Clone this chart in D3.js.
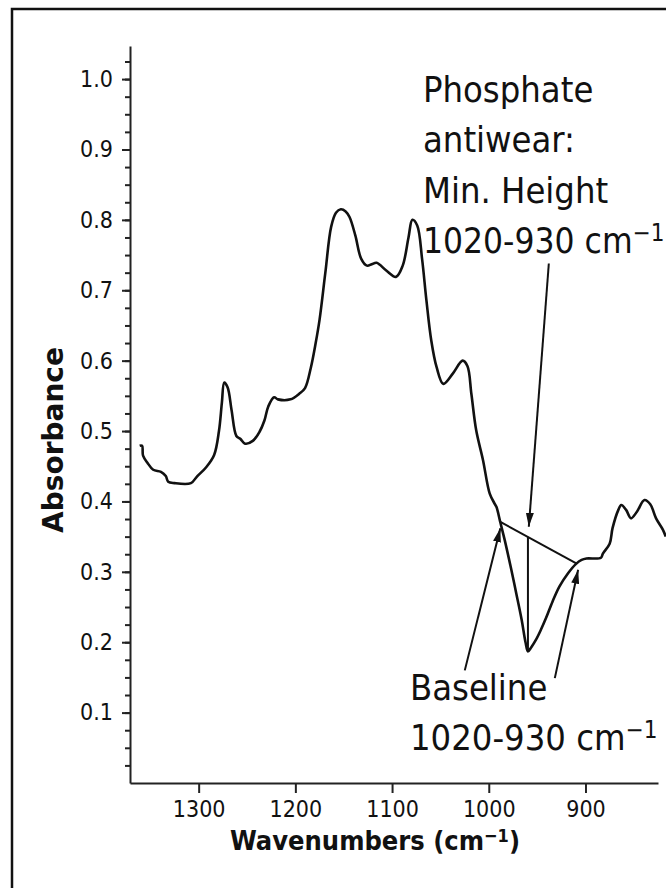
<!DOCTYPE html>
<html>
<head>
<meta charset="utf-8">
<script src="https://cdn.jsdelivr.net/npm/d3@7"></script>
<style>
	body { margin: 0; background: #fff; }
	text { font-family: "DejaVu Sans", Verdana, sans-serif; font-stretch: condensed; fill: #111; }
	.axis path, .axis line { stroke: #222; stroke-width: 2; }
</style>
</head>
<body>
<div id="chart"></div>
<script>
// spectrum (wavenumber cm-1, absorbance)
var wavenumbers = [1361, 1358.5, 1357.5, 1353, 1347, 1339, 1334, 1331.5, 1325, 1308, 1302, 1292, 1284, 1279, 1276, 1273.5,
	1270, 1266, 1261, 1257, 1252, 1244, 1237, 1232, 1228, 1222, 1218, 1205, 1196, 1190, 1184, 1179, 1175, 1169, 1163,
	1158, 1153, 1148, 1144, 1138, 1132, 1126, 1121, 1116, 1106, 1096, 1089, 1083, 1079, 1074, 1069, 1064.5, 1059.5,
	1054, 1047, 1037, 1027, 1022, 1018, 1013, 1006, 999, 994, 992, 988, 983.5, 977, 971.5, 966, 962, 959.5, 956, 951,
	946, 940.6, 934, 927, 918, 910, 904, 899, 884, 882, 875, 872, 866, 863, 858, 853, 847, 839, 833, 827, 820, 817];
var absorbance = [0.479, 0.479, 0.465, 0.455, 0.445, 0.442, 0.436, 0.428, 0.426, 0.426, 0.435, 0.449, 0.466, 0.500, 0.540, 0.569,
	0.562, 0.530, 0.493, 0.489, 0.482, 0.486, 0.499, 0.515, 0.535, 0.548, 0.545, 0.545, 0.553, 0.561, 0.590, 0.625, 0.658, 0.725, 0.790,
	0.810, 0.815, 0.812, 0.804, 0.778, 0.745, 0.735, 0.737, 0.739, 0.728, 0.719, 0.735, 0.775, 0.800, 0.792, 0.745, 0.686, 0.629,
	0.591, 0.567, 0.582, 0.600, 0.592, 0.553, 0.501, 0.459, 0.411, 0.397, 0.392, 0.370, 0.345, 0.305, 0.269, 0.232, 0.200, 0.187, 0.193, 0.204,
	0.218, 0.235, 0.258, 0.279, 0.298, 0.311, 0.317, 0.319, 0.320, 0.326, 0.340, 0.362, 0.388, 0.395, 0.388, 0.376, 0.385, 0.402, 0.396, 0.376, 0.360, 0.350];

var xTicks = [1300, 1200, 1100, 1000, 900];
var yTicks = [0.1, 0.2, 0.3, 0.4, 0.5, 0.6, 0.7, 0.8, 0.9, 1.0];
var yMinorTicks = d3.range(1, 42).map(function(i) { return i * 0.025; });

// baseline end points and min height position
var baselineWn = [988, 909.5];
var baselineAbs = [0.371, 0.312];
var minHeightWn = 959.5;
var minHeightAbs = 0.187;

// arrows: [from wn, from abs, to wn, to abs]
var arrows = [
	[937.9, 0.738, 958.6, 0.364],
	[1024.8, 0.160, 988, 0.362],
	[931.7, 0.149, 907.6, 0.303]
];

var W = 666, H = 888;
var margin = {top: 46, left: 130},
		plotRight = 658, plotBottom = 783;

var x = d3.scaleLinear()
		.domain([1371, 825])
		.range([margin.left, plotRight]);

var y = d3.scaleLinear()
		.domain([0, 1.047])
		.range([plotBottom, margin.top]);

var svg = d3.select("div#chart").append("svg")
		.attr("width", W)
		.attr("height", H);

// frame (right and bottom run off the picture)
svg.append("rect")
	.attr("x", 12).attr("y", 9)
	.attr("width", 700).attr("height", 900)
	.attr("fill", "none")
	.attr("stroke", "#111")
	.attr("stroke-width", 2.5);

svg.append("g")
	.attr("class", "y axis")
	.attr("transform", "translate(" + margin.left + ",0)")
	.call(d3.axisLeft(y).tickValues(yMinorTicks).tickSize(5).tickFormat(""))
	.call(function(g) { g.select(".domain").remove(); });

svg.append("g")
	.attr("class", "y axis")
	.attr("transform", "translate(" + margin.left + ",0)")
	.call(d3.axisLeft(y).tickValues(yTicks).tickSize(8).tickSizeOuter(0).tickPadding(9).tickFormat(d3.format(".1f")))
	.selectAll("text").style("font-size", "23px");

svg.append("g")
	.attr("class", "x axis")
	.attr("transform", "translate(0," + plotBottom + ")")
	.call(d3.axisBottom(x).tickValues(xTicks).tickSize(10).tickSizeOuter(0).tickPadding(8).tickFormat(d3.format("d")))
	.selectAll("text").style("font-size", "23px");

var pts = wavenumbers.map(function(w, i) { return [w, absorbance[i]]; });

var line = d3.line()
		.x(function(d) { return x(d[0]); })
		.y(function(d) { return y(d[1]); })
		.curve(d3.curveCatmullRom);

svg.append("path")
	.datum(pts)
	.attr("fill", "none")
	.attr("stroke", "#111")
	.attr("stroke-width", 2.6)
	.attr("stroke-linejoin", "round")
	.attr("d", line);

// baseline and min height
svg.append("line")
	.attr("x1", x(baselineWn[0])).attr("y1", y(baselineAbs[0]))
	.attr("x2", x(baselineWn[1])).attr("y2", y(baselineAbs[1]))
	.attr("stroke", "#111").attr("stroke-width", 2);

var t = (minHeightWn - baselineWn[0]) / (baselineWn[1] - baselineWn[0]);
svg.append("line")
	.attr("x1", x(minHeightWn)).attr("y1", y(minHeightAbs))
	.attr("x2", x(minHeightWn)).attr("y2", y(baselineAbs[0] + t * (baselineAbs[1] - baselineAbs[0])))
	.attr("stroke", "#111").attr("stroke-width", 2);

svg.append("defs").append("marker")
	.attr("id", "head")
	.attr("viewBox", "0 0 14 8")
	.attr("refX", 14).attr("refY", 4)
	.attr("markerWidth", 14).attr("markerHeight", 8)
	.attr("markerUnits", "userSpaceOnUse")
	.attr("orient", "auto")
	.append("path")
	.attr("d", "M0,0L14,4L0,8Z")
	.attr("fill", "#111");

svg.selectAll(".arrow")
	.data(arrows)
	.enter()
	.append("line")
	.attr("class", "arrow")
	.attr("x1", function(d) { return x(d[0]); })
	.attr("y1", function(d) { return y(d[1]); })
	.attr("x2", function(d) { return x(d[2]); })
	.attr("y2", function(d) { return y(d[3]); })
	.attr("stroke", "#111")
	.attr("stroke-width", 2)
	.attr("marker-end", "url(#head)");

// annotation text
function unitText(sel, xx, yy, pre, size) {
	var t = sel.append("text").attr("x", xx).attr("y", yy).style("font-size", size + "px");
	t.append("tspan").text(pre + " cm");
	t.append("tspan").attr("dy", -12).style("font-size", "24px").text("\u22121");
}

[["Phosphate", 101.7], ["antiwear:", 151.7], ["Min. Height", 203.3]].forEach(function(d) {
	svg.append("text")
		.attr("x", 423).attr("y", d[1])
		.style("font-size", "36px")
		.text(d[0]);
});
unitText(svg, 423, 253.3, "1020-930", 35);

svg.append("text")
	.attr("x", 410).attr("y", 700)
	.style("font-size", "36px")
	.text("Baseline");
unitText(svg, 410, 750, "1020-930", 36);

// axis titles
var xl = svg.append("text")
	.attr("text-anchor", "middle")
	.attr("x", 375).attr("y", 850)
	.style("font-size", "27px")
	.style("font-weight", "bold");
xl.append("tspan").text("Wavenumbers (cm");
xl.append("tspan").attr("dy", -8).style("font-size", "18px").text("\u22121");
xl.append("tspan").attr("dy", 8).text(")");

svg.append("text")
	.attr("text-anchor", "middle")
	.attr("transform", "translate(63,440) rotate(-90)")
	.style("font-size", "28px")
	.style("font-weight", "bold")
	.style("font-stretch", "normal")
	.text("Absorbance");
</script>
</body>
</html>
